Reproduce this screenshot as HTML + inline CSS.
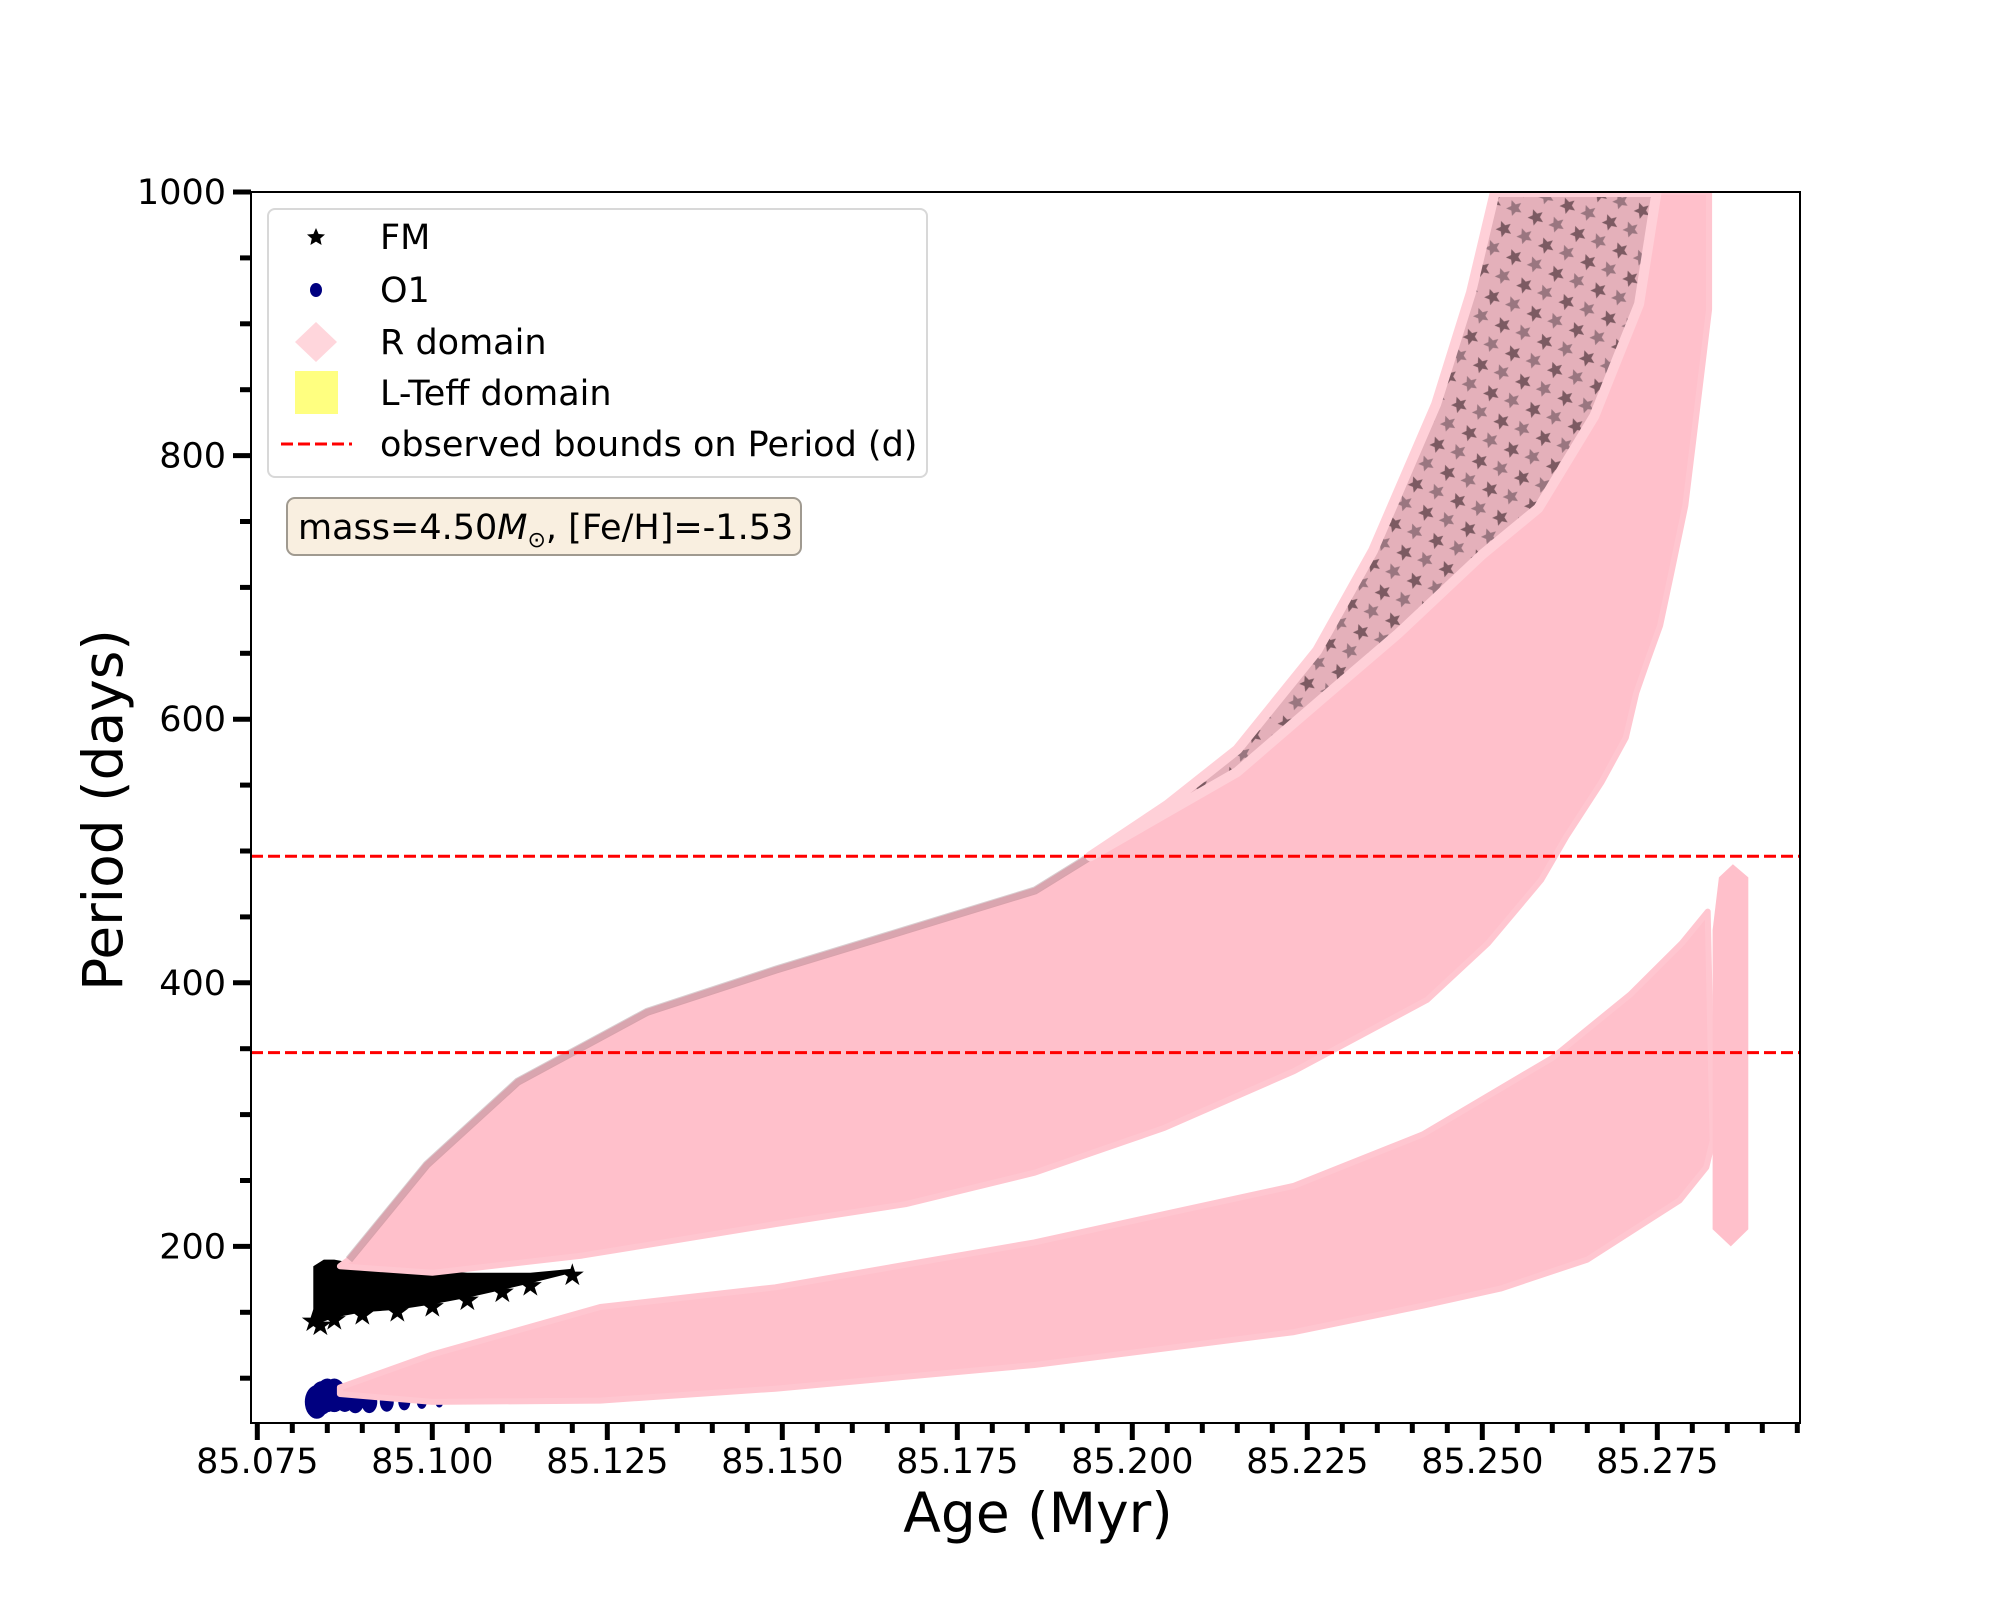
<!DOCTYPE html>
<html><head><meta charset="utf-8"><style>
html,body{margin:0;padding:0;background:#fff;}
svg{display:block;font-family:"DejaVu Sans","Liberation Sans",sans-serif;}
</style></head><body>
<svg id="chart" width="2000" height="1600" viewBox="0 0 2000 1600" xmlns="http://www.w3.org/2000/svg">
<defs>
<clipPath id="plotclip"><rect x="251" y="192" width="1549" height="1231"/></clipPath>
<pattern id="starpat" width="34" height="30" patternUnits="userSpaceOnUse" patternTransform="rotate(-20)">
<rect width="34" height="30" fill="#e4b0ba"/>
<polygon points="9,1 11.4,6.5 17,7 12.8,10.8 14,16.5 9,13.5 4,16.5 5.2,10.8 1,7 6.6,6.5" fill="#7c5a62"/>
<polygon points="26,15 28.4,20.5 34,21 29.8,24.8 31,30 26,27.5 21,30 22.2,24.8 18,21 23.6,20.5" fill="#9a7680"/>
</pattern>
</defs>
<g id="plot" clip-path="url(#plotclip)"></g>
<g id="axes"></g>
</svg>
<script>
// ---- data arrays ----
const bandUpAges = [85.0868,85.0881,85.0992,85.1122,85.1307,85.1491,85.1676,85.1861,85.1940,85.2050,85.2150,85.2264,85.2344,85.2434,85.2484,85.2518];
const bandUpP    = [185,190,262,325,378,410,440,470,496,535,577,652,728,839,924,1000];
const bandLoAges = [85.0868,85.1000,85.1214,85.1491,85.1676,85.1861,85.2046,85.2231,85.2421,85.2508,85.2584,85.2620,85.2670,85.2705,85.2720,85.2737,85.2754,85.2770,85.2790,85.2804,85.2824,85.2824];
const bandLoP    = [185,180,193,217,232,256,290,333,387,430,478,511,552,586,620,646,671,711,762,823,911,1000];
const starEdgeAges = [85.1940,85.2150,85.2270,85.2380,85.2500,85.2580,85.2660,85.2724,85.2749];
const starEdgeP    = [496,560,615,665,725,760,830,915,1000];
const o1UpAges = [85.0868,85.1000,85.1240,85.1490,85.1860,85.2231,85.2415,85.2600,85.2711,85.2785,85.2822];
const o1UpP    = [93,118,154,169,203,246,285,343,391,430,454];
const o1LoAges = [85.0868,85.1000,85.1240,85.1490,85.1860,85.2231,85.2415,85.2526,85.2650,85.2782,85.2820,85.2829];
const o1LoP    = [88,82,83,92,110,135,155,168,190,235,260,280];
const spikeAges = [85.2829,85.2838,85.2858,85.2880,85.2880,85.2855,85.2829];
const spikeP    = [440,480,490,480,213,200,213];
const fmTopAges = [85.0830,85.0845,85.0860,85.0900,85.0950,85.1050,85.1140,85.1200];
const fmTopP    = [185,190,190,186,184,180,180,183];
const fmBotAges = [85.0830,85.0840,85.0860,85.0900,85.0950,85.1000,85.1050,85.1100,85.1140,85.1200];
const fmBotP    = [145,142,146,150,152,156,161,167,172,180];
const o1Ages = [85.0835,85.0842,85.0850,85.0860,85.0875,85.0890,85.0910,85.0935,85.0960,85.0985,85.1010];
const o1P    = [82,85,87,87,85,83,82,82,82,82,82];
const o1Size = [12,12,12,12,10,9,8,7,6,5,4];
const boundsP = [496,347];
const xTicks = [85.075,85.100,85.125,85.150,85.175,85.200,85.225,85.250,85.275];
const xTickLabels = ["85.075","85.100","85.125","85.150","85.175","85.200","85.225","85.250","85.275"];
const yTicks = [200,400,600,800,1000];
const yTickLabels = ["200","400","600","800","1000"];

const NS="http://www.w3.org/2000/svg";
const X = a => 257.3 + (a-85.075)*7000;
const Y = p => 192 + (1000-p)*1.318;
const plot=document.getElementById('plot'), axes=document.getElementById('axes');
function mk(tag, attrs, parent){const e=document.createElementNS(NS,tag);for(const k in attrs)e.setAttribute(k,attrs[k]);(parent||plot).appendChild(e);return e;}
function pts(ages,ps){return ages.map((a,i)=>X(a).toFixed(1)+','+Y(ps[i]).toFixed(1));}

for(let i=0;i<o1Ages.length;i++){
  const c=mk('ellipse',{cx:X(o1Ages[i]),cy:Y(o1P[i]),rx:o1Size[i],ry:o1Size[i]*1.4,fill:'#000080'});
  
  
}
const fm=mk('polygon',{points:pts(fmTopAges,fmTopP).concat(pts(fmBotAges,fmBotP).reverse()).join(' '),fill:'#000'});


for(let i=0;i<fmBotAges.length;i++){
  const s=mk('text',{x:X(fmBotAges[i]),y:Y(fmBotP[i])+12,'font-size':30,'text-anchor':'middle',fill:'#000'});
  s.textContent='★';
  
  
}
const ub=mk('polygon',{points:pts(bandUpAges,bandUpP).concat(pts(bandLoAges,bandLoP).reverse()).join(' '),fill:'#ffc0cb',stroke:'#ffc6d0','stroke-width':6,'stroke-linejoin':'round'});


const ue=mk('polyline',{points:pts(bandUpAges.slice(1,9),bandUpP.slice(1,9)).join(' '),fill:'none',stroke:'rgba(130,90,100,0.3)','stroke-width':8});


const iS=bandUpAges.findIndex(a=>a>=85.1940);
const sUpA=bandUpAges.slice(iS), sUpP=bandUpP.slice(iS);
const sr=mk('polygon',{points:pts(sUpA,sUpP).concat(pts(starEdgeAges,starEdgeP).reverse()).join(' '),fill:'url(#starpat)',stroke:'#ffd0d8','stroke-width':10,'stroke-linejoin':'round'});


const lb=mk('polygon',{points:pts(o1UpAges,o1UpP).concat(pts(o1LoAges,o1LoP).reverse()).join(' '),fill:'#ffc0cb',stroke:'#ffc6d0','stroke-width':6,'stroke-linejoin':'round'});


const sp=mk('polygon',{points:pts(spikeAges,spikeP).join(' '),fill:'#ffc0cb'});


boundsP.forEach(p=>{
  const l=mk('line',{x1:251,x2:1800,y1:Y(p),y2:Y(p),stroke:'#ff0000','stroke-width':3,'stroke-dasharray':'12,5'});
  
  
});
const fr=mk('rect',{x:251,y:192,width:1549,height:1231,fill:'none',stroke:'#000','stroke-width':2},axes);


for(let v=85.075;v<=85.2951;v+=0.005){
  const major=Math.abs(((v-85.075)/0.025)-Math.round((v-85.075)/0.025))<1e-6;
  const t=mk('line',{x1:X(v),x2:X(v),y1:1423,y2:major?1440:1433,stroke:'#000','stroke-width':5},axes);
  
  
}
xTicks.forEach((v,i)=>{
  const t=mk('text',{x:X(v),y:1473,'font-size':35,'text-anchor':'middle',fill:'#000'},axes);
  t.textContent=xTickLabels[i];
  
  
});
for(let v=100;v<=1000;v+=50){
  const major=v%200===0;
  const t=mk('line',{x1:major?233:240,x2:251,y1:Y(v),y2:Y(v),stroke:'#000','stroke-width':5},axes);
  
  
}
yTicks.forEach((v,i)=>{
  const t=mk('text',{x:226,y:Y(v)+12,'font-size':35,'text-anchor':'end',fill:'#000'},axes);
  t.textContent=yTickLabels[i];
  
  
});
</script>
<svg width="2000" height="1600" style="position:absolute;left:0;top:0;font-family:'DejaVu Sans','Liberation Sans',sans-serif" xmlns="http://www.w3.org/2000/svg">
<text x="1038" y="1532" font-size="55" text-anchor="middle">Age (Myr)</text>
<text x="0" y="0" font-size="55" text-anchor="middle" transform="translate(122,810) rotate(-90)">Period (days)</text>
<g>
<rect x="268" y="209" width="659" height="268" rx="7" fill="#fff" fill-opacity="0.85" stroke="#d8d8d8" stroke-width="2"/>
<g>
<polygon points="316,228 318.6,234 325,234.5 320.2,238.6 321.6,245 316,241.6 310.4,245 311.8,238.6 307,234.5 313.4,234" fill="#000"/>
<text x="380" y="249" font-size="35">FM</text></g>
<g>
<ellipse cx="316" cy="290" rx="6" ry="7" fill="#000080"/>
<text x="380" y="302" font-size="35">O1</text></g>
<g>
<polygon points="316,322 337,342 316,362 295,342" fill="#ffd6dc"/>
<text x="380" y="354" font-size="35">R domain</text></g>
<g>
<rect x="295" y="371" width="43" height="43" fill="#ffff80"/>
<text x="380" y="405" font-size="35">L-Teff domain</text></g>
<g>
<line x1="281" y1="444" x2="352" y2="444" stroke="#ff0000" stroke-width="3" stroke-dasharray="12,5"/>
<text x="380" y="456" font-size="35">observed bounds on Period (d)</text></g>
</g>
<g>
<rect x="287" y="498" width="514" height="57" rx="8" fill="#f9efe0" stroke="#a09a90" stroke-width="2"/>
<text x="298" y="539" font-size="35">mass=4.50<tspan font-style="italic">M</tspan><tspan font-size="22" dy="8">⊙</tspan><tspan dy="-8">, [Fe/H]=-1.53</tspan></text>
</g>
</svg>
</body></html>
